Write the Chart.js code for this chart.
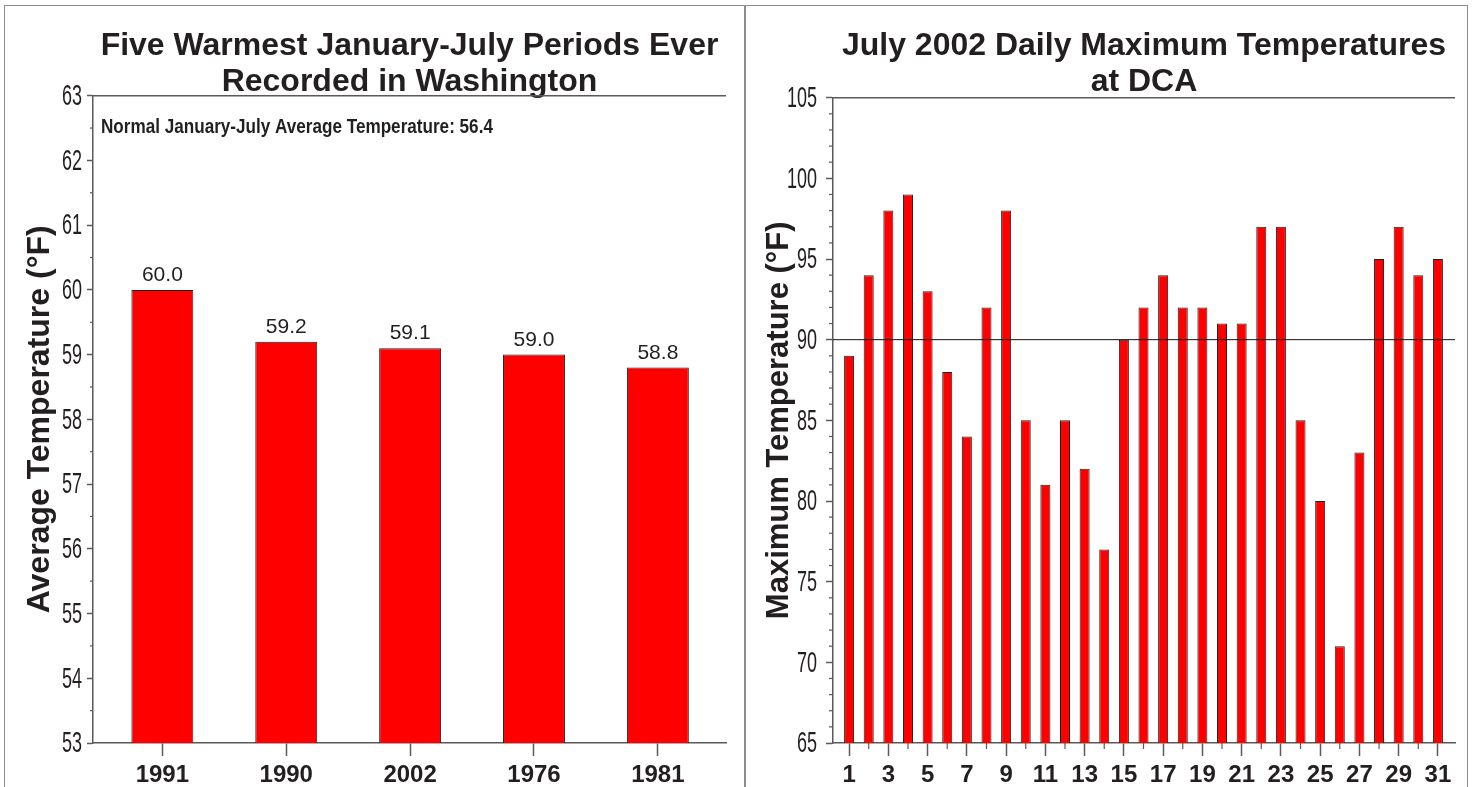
<!DOCTYPE html>
<html>
<head>
<meta charset="utf-8">
<script src="https://cdn.jsdelivr.net/npm/chart.js@4/dist/chart.umd.min.js"></script>
<style>
html,body{margin:0;padding:0;background:#fff;width:1473px;height:787px;overflow:hidden;}
#frame{position:absolute;left:4px;top:5px;width:1464px;height:820px;border:1.5px solid #8c8c8c;box-sizing:border-box;}
#divider{position:absolute;left:744px;top:5px;width:1.5px;height:820px;background:#8c8c8c;}
#w1{position:absolute;left:6px;top:7px;width:738px;height:780px;}
#w2{position:absolute;left:746px;top:7px;width:720px;height:780px;}
</style>
</head>
<body>
<div id="frame"></div>
<div id="divider"></div>
<div id="w1"><canvas id="c1"></canvas></div>
<div id="w2"><canvas id="c2"></canvas></div>
<script>
// ---- data ----
const years = ['1991', '1990', '2002', '1976', '1981'];
const avgTemps = [60.0, 59.2, 59.1, 59.0, 58.8];
const normalAvg = 56.4;

const days = [1,2,3,4,5,6,7,8,9,10,11,12,13,14,15,16,17,18,19,20,21,22,23,24,25,26,27,28,29,30,31];
const maxTemps = [89,94,98,99,93,88,84,92,98,85,81,85,82,77,90,92,94,92,92,91,91,97,97,85,80,71,83,95,97,94,95];
const refTemp = 90;

const leftTitle = ['Five Warmest January-July Periods Ever', 'Recorded in Washington'];
const rightTitle = ['July 2002 Daily Maximum Temperatures', 'at DCA'];
const leftYTitle = 'Average Temperature (°F)';
const rightYTitle = 'Maximum Temperature (°F)';
const noteText = 'Normal January-July Average Temperature: ' + normalAvg.toFixed(1);

// ---- styles ----
const SANS = "'Liberation Sans', Arial, Helvetica, sans-serif";
const INK = '#231f20';
const AXIS = '#5a5a5a';

function condensedText(ctx, text, x, y, sx, align, baseline) {
  ctx.save();
  ctx.translate(x, y);
  ctx.scale(sx, 1);
  ctx.textAlign = align; ctx.textBaseline = baseline;
  ctx.fillText(text, 0, 0);
  ctx.restore();
}

const decor = {
  id: 'decor',
  afterDatasetsDraw(chart, args, o) {
    const ctx = chart.ctx, ca = chart.chartArea;
    ctx.save();
    // top frame line
    ctx.strokeStyle = AXIS; ctx.lineWidth = 1.5;
    ctx.beginPath(); ctx.moveTo(ca.left, ca.top); ctx.lineTo(ca.right, ca.top); ctx.stroke();
    // minor y ticks
    const ys = chart.scales.y;
    ctx.lineWidth = 1.2;
    for (let v = ys.min; v <= ys.max + 1e-9; v += o.yMinor) {
      const r = Math.round(v * 1000) / 1000;
      if (Math.abs(r / o.yMajor - Math.round(r / o.yMajor)) < 1e-6) continue;
      const p = ys.getPixelForValue(r);
      ctx.beginPath(); ctx.moveTo(ca.left - o.yMinorLen, p); ctx.lineTo(ca.left, p); ctx.stroke();
    }
    // minor x ticks
    if (o.xMinor) {
      const xs = chart.scales.x;
      o.xMinor.forEach(v => {
        const p = xs.getPixelForValue(v);
        ctx.beginPath(); ctx.moveTo(p, ca.bottom); ctx.lineTo(p, ca.bottom + o.xMinorLen); ctx.stroke();
      });
    }
    // y tick labels (condensed), taken from the scale's own ticks
    ctx.fillStyle = INK; ctx.font = '30px ' + SANS;
    ys.ticks.forEach(t => {
      condensedText(ctx, String(t.label), ca.left - o.yLabelGap, ys.getPixelForValue(t.value) + 1, 0.6, 'right', 'middle');
    });
    // reference line
    if (o.ref !== undefined) {
      const p = ys.getPixelForValue(o.ref);
      ctx.strokeStyle = '#111'; ctx.lineWidth = 1;
      ctx.beginPath(); ctx.moveTo(ca.left, p); ctx.lineTo(ca.right, p); ctx.stroke();
    }
    // value labels
    if (o.valueLabels) {
      const meta = chart.getDatasetMeta(0);
      ctx.fillStyle = INK; ctx.font = '21px ' + SANS;
      ctx.textAlign = 'center'; ctx.textBaseline = 'alphabetic';
      meta.data.forEach((bar, i) => {
        ctx.fillText(chart.data.datasets[0].data[i].y.toFixed(1), bar.x, bar.y - 9);
      });
    }
    // note
    if (o.note) {
      ctx.fillStyle = INK; ctx.font = 'bold 21px ' + SANS;
      condensedText(ctx, o.note, ca.left + 8, ca.top + 37, 0.815, 'left', 'alphabetic');
    }
    ctx.restore();
  }
};

function titleOpts(lines, padBottom) {
  return {
    display: true, text: lines, color: INK, fullSize: false,
    font: { family: SANS, size: 32, weight: 'bold', lineHeight: 1.12 },
    padding: { top: 21, bottom: padBottom }
  };
}

// ---- left chart ----
new Chart(document.getElementById('c1'), {
  type: 'bar',
  data: {
    datasets: [{
      data: avgTemps.map((v, i) => ({ x: i, y: v })),
      backgroundColor: '#ff0000', borderColor: '#222', borderWidth: 1,
      barPercentage: 0.5, categoryPercentage: 1
    }]
  },
  options: {
    responsive: true, maintainAspectRatio: false, animation: false,
    layout: { padding: { left: 0, right: 18, top: 0, bottom: 0 } },
    plugins: {
      legend: { display: false }, tooltip: { enabled: false },
      title: titleOpts(leftTitle, -4),
      decor: { yMinor: 0.5, yMajor: 1, yMinorLen: 3, yLabelGap: 11, valueLabels: true, note: noteText }
    },
    scales: {
      x: {
        type: 'linear', min: -0.56, max: 4.55, offset: false,
        afterBuildTicks(s) { s.ticks = years.map((_, i) => ({ value: i })); },
        ticks: { callback: v => years[v], font: { family: SANS, size: 24, weight: 'bold' }, color: INK, padding: 5, autoSkip: false, maxRotation: 0 },
        grid: { offset: false, drawOnChartArea: false, tickLength: 13, color: AXIS, tickWidth: 1.5 },
        border: { color: AXIS, width: 1.5 },
        afterFit(s) { s.height = 44; }
      },
      y: {
        min: 53, max: 63,
        ticks: { stepSize: 1, display: false },
        grid: { drawOnChartArea: false, tickLength: 6, color: AXIS, tickWidth: 1.5 },
        border: { color: AXIS, width: 1.5 },
        title: { display: true, text: leftYTitle, color: INK, font: { family: SANS, size: 32, weight: 'bold', lineHeight: 1.2 }, padding: { top: 15, bottom: 0 } },
        afterFit(s) { s.width = 87; }
      }
    }
  },
  plugins: [decor]
});

// ---- right chart ----
new Chart(document.getElementById('c2'), {
  type: 'bar',
  data: {
    datasets: [{
      data: maxTemps.map((v, i) => ({ x: days[i], y: v })),
      backgroundColor: '#ff0000', borderColor: '#222', borderWidth: 1,
      barPercentage: 0.51, categoryPercentage: 1
    }]
  },
  options: {
    responsive: true, maintainAspectRatio: false, animation: false,
    layout: { padding: { left: 0, right: 11, top: 0, bottom: 0 } },
    plugins: {
      legend: { display: false }, tooltip: { enabled: false },
      title: titleOpts(rightTitle, -2),
      decor: { yMinor: 1, yMajor: 5, yMinorLen: 4, yLabelGap: 16, xMinor: days.filter(d => d % 2 === 0), xMinorLen: 6, ref: refTemp }
    },
    scales: {
      x: {
        type: 'linear', min: 0.18, max: 31.87, offset: false,
        afterBuildTicks(s) { s.ticks = days.filter(d => d % 2 === 1).map(d => ({ value: d })); },
        ticks: { callback: v => String(v), font: { family: SANS, size: 24, weight: 'bold' }, color: INK, padding: 5, autoSkip: false, maxRotation: 0 },
        grid: { offset: false, drawOnChartArea: false, tickLength: 13, color: AXIS, tickWidth: 1.5 },
        border: { color: AXIS, width: 1.5 },
        afterFit(s) { s.height = 44; }
      },
      y: {
        min: 65, max: 105,
        ticks: { stepSize: 5, display: false },
        grid: { drawOnChartArea: false, tickLength: 7, color: AXIS, tickWidth: 1.5 },
        border: { color: AXIS, width: 1.5 },
        title: { display: true, text: rightYTitle, color: INK, font: { family: SANS, size: 31, weight: 'bold', lineHeight: 1.2 }, padding: { top: 15, bottom: 0 } },
        afterFit(s) { s.width = 87; }
      }
    }
  },
  plugins: [decor]
});
</script>
</body>
</html>
